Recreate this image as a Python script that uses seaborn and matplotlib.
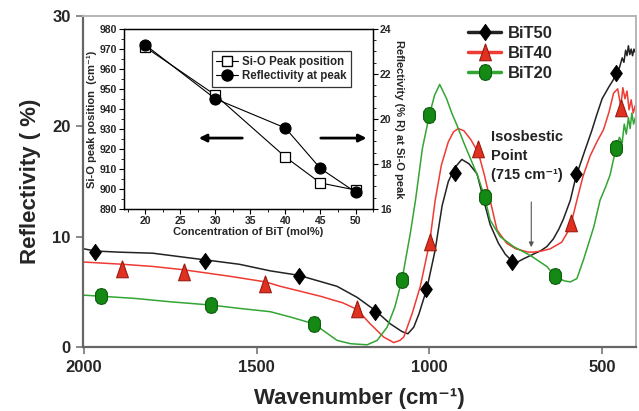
import numpy as np
import pandas as pd
import matplotlib
matplotlib.use("Agg")
import matplotlib.pyplot as plt
from matplotlib.lines import Line2D
import seaborn as sns

# ---------------- data ----------------
# BiT50 spectrum (black)
w50 = [2000, 1967, 1900, 1800, 1700, 1649, 1550, 1460, 1378, 1300, 1267, 1209, 1156, 1113,
       1079, 1062, 1045, 1030, 1007, 983, 963, 945, 925, 906, 885, 862, 840, 824, 800, 780,
       761, 745, 727, 700, 679, 660, 641, 625, 612, 592, 576, 550, 530, 516, 500, 480, 468,
       460, 450, 442, 437, 432, 428, 424, 420, 416, 412, 408, 404]
r50 = [8.9, 8.7, 8.6, 8.5, 8.1, 7.9, 7.5, 6.9, 6.5, 5.8, 5.5, 4.5, 3.3, 2.1,
       1.4, 1.2, 1.8, 3.0, 5.3, 8.8, 12.8, 15.0, 16.3, 17.0, 16.6, 15.7, 13.0, 11.1, 9.4, 8.4,
       7.8, 7.7, 8.0, 8.4, 8.7, 9.1, 9.8, 10.7, 11.6, 13.3, 15.4, 17.8, 19.6, 21.0, 22.5, 23.6, 24.2,
       24.8, 25.3, 26.2, 25.8, 26.9, 26.4, 27.3, 26.5, 27.0, 26.4, 27.0, 26.7]

# BiT40 spectrum (red)
w40 = [2000, 1888, 1800, 1711, 1575, 1474, 1431, 1315, 1250, 1209, 1171, 1132, 1103, 1085,
       1074, 1050, 1026, 999, 983, 965, 945, 930, 916, 900, 880, 858, 840, 824, 804, 776,
       750, 737, 715, 699, 675, 650, 617, 600, 588, 573, 555, 535, 515, 496, 480, 467,
       455, 446, 440, 434, 428, 422, 416, 410, 404]
r40 = [7.7, 7.5, 7.3, 7.0, 6.4, 5.9, 5.5, 4.6, 4.0, 3.4, 2.1, 0.9, 0.4, 0.6,
       0.9, 3.0, 5.5, 9.5, 13.3, 16.5, 18.6, 19.5, 19.8, 19.6, 18.8, 17.6, 15.5, 13.3, 10.6, 9.4,
       8.9, 8.8, 8.6, 8.6, 8.7, 8.9, 9.5, 10.4, 11.4, 13.3, 15.5, 17.3, 18.6, 19.7, 21.3, 23.0,
       23.4, 21.8, 23.5, 22.5, 23.2, 21.5, 22.4, 21.2, 21.9]

# BiT20 spectrum (green)
w20 = [2000, 1949, 1850, 1750, 1631, 1550, 1460, 1400, 1334, 1267, 1228, 1180, 1151, 1122,
       1100, 1079, 1055, 1040, 1020, 1000, 985, 970, 950, 935, 920, 900, 880, 860, 840, 824,
       795, 756, 708, 660, 636, 610, 592, 573, 554, 524, 506, 490, 477, 460, 450, 442, 436,
       430, 424, 419, 414, 409, 404]
r20 = [4.7, 4.6, 4.4, 4.1, 3.8, 3.5, 3.2, 2.7, 2.1, 0.6, 0.3, 0.2, 0.6, 1.8,
       3.6, 6.1, 10.3, 13.3, 18.0, 21.0, 22.8, 23.8, 22.5, 21.2, 20.1, 18.5, 17.0, 15.5, 13.6, 11.5,
       10.0, 9.1, 8.3, 7.3, 6.4, 6.0, 5.9, 6.2, 7.9, 10.9, 13.3, 14.5, 15.6, 18.0, 19.0, 18.5, 20.2,
       19.3, 20.8, 19.8, 21.2, 20.2, 20.8]

# marker positions
m50_w = [1967, 1649, 1378, 1156, 1010, 925, 761, 576, 460]
m50_r = [8.6, 7.8, 6.4, 3.2, 5.3, 15.8, 7.7, 15.7, 24.8]
m40_w = [1888, 1711, 1474, 1209, 999, 858, 590, 446]
m40_r = [7.1, 6.8, 5.7, 3.4, 9.5, 17.9, 11.2, 21.7]
m20_w = [1949, 1631, 1334, 1079, 1000, 840, 636, 460]
m20_r = [4.6, 3.8, 2.1, 6.1, 21.0, 13.6, 6.4, 18.0]

samples = ["BiT50", "BiT40", "BiT20"]

# inset data
conc = [20, 30, 40, 45, 50]
peak_pos = [971, 947, 916, 903, 899.5]
refl_peak = [23.3, 20.9, 19.6, 17.8, 16.75]

# ---------------- style ----------------
sns.set_style("white")
plt.rcParams["font.family"] = ["Liberation Sans", "DejaVu Sans"]
plt.rcParams["font.weight"] = "bold"

line_col = {"BiT50": "#222222", "BiT40": "#ee3b33", "BiT20": "#33a533"}
fill_col = {"BiT50": "#000000", "BiT40": "#e0301f", "BiT20": "#148a14"}
edge_col = {"BiT50": "#000000", "BiT40": "#9a1a10", "BiT20": "#0b5a0b"}
mk = {
    "BiT50": [(0, 1), (0.72, 0), (0, -1), (-0.72, 0), (0, 1)],
    "BiT40": [(0, 1), (-0.68, -0.95), (0.68, -0.95), (0, 1)],
    "BiT20": [(0.0, 1.0), (0.45, 0.88), (0.72, 0.5), (0.75, 0.0), (0.72, -0.5), (0.45, -0.88),
              (0.0, -1.0), (-0.45, -0.88), (-0.72, -0.5), (-0.75, 0.0), (-0.72, 0.5),
              (-0.45, 0.88), (0.0, 1.0)],
}
msz = {"BiT50": 11.5, "BiT40": 12.5, "BiT20": 11.5}

fig = plt.figure(figsize=(6.39, 4.11), dpi=100)
ax = fig.add_axes([0.1299, 0.1557, 0.8654, 0.8054])

spec = pd.concat([
    pd.DataFrame({"w": w50, "R": r50, "s": "BiT50"}),
    pd.DataFrame({"w": w40, "R": r40, "s": "BiT40"}),
    pd.DataFrame({"w": w20, "R": r20, "s": "BiT20"}),
])
marks = {
    "BiT50": (m50_w, m50_r),
    "BiT40": (m40_w, m40_r),
    "BiT20": (m20_w, m20_r),
}

sns.lineplot(data=spec, x="w", y="R", hue="s", palette=line_col, estimator=None,
             sort=False, lw=1.1, legend=False, ax=ax)
for s in samples:
    mw, mr = marks[s]
    sns.scatterplot(x=mw, y=mr, marker=mk[s], s=msz[s] ** 2, color=fill_col[s],
                    edgecolor=edge_col[s], linewidth=0.8, ax=ax, zorder=5, legend=False)

ax.set_xlim(2002, 402)
ax.set_ylim(0, 30)
ax.set_xticks([2000, 1500, 1000, 500])
ax.set_yticks([0, 10, 20, 30])
ax.tick_params(axis="both", which="major", direction="out", length=5, width=1.2,
               color="#777777", labelsize=12, pad=4, bottom=True, left=True)
for lab in ax.get_xticklabels() + ax.get_yticklabels():
    lab.set_fontweight("bold")
ax.set_xlabel("Wavenumber (cm⁻¹)", fontsize=16, fontweight="bold", labelpad=10)
ax.set_ylabel("Reflectivity ( %)", fontsize=16, fontweight="bold", labelpad=8)
for sp in ["left", "bottom"]:
    ax.spines[sp].set_color("#666666")
    ax.spines[sp].set_linewidth(1.6)
for sp in ["top", "right"]:
    ax.spines[sp].set_color("#b5b5b5")
    ax.spines[sp].set_linewidth(1.4)

handles = [Line2D([], [], color=line_col[s], lw=2.5, marker=mk[s], ms=msz[s],
                  mfc=fill_col[s], mec=edge_col[s], mew=0.8) for s in samples]
ax.legend(handles, samples, loc="upper left", bbox_to_anchor=(0.675, 1.005),
          frameon=False, prop={"size": 12, "weight": "bold"}, handlelength=2.0,
          handletextpad=0.4, labelspacing=0.3, borderpad=0.2)

ax.text(821, 19.7, "Isosbestic\nPoint\n(715 cm⁻¹)", fontsize=10.5, fontweight="bold",
        ha="left", va="top", linespacing=1.45, color="#222222")
ax.annotate("", xy=(705, 8.8), xytext=(705, 13.4),
            arrowprops=dict(arrowstyle="-|>", color="#555555", lw=0.8, mutation_scale=7))

# ---------------- inset ----------------
ax_in = fig.add_axes([0.1941, 0.4915, 0.3897, 0.438])
ax_in.set_facecolor("white")
sns.lineplot(x=conc, y=peak_pos, ax=ax_in, color="black", lw=0.8, marker="s", ms=7,
             mfc="white", mec="black", mew=0.9, estimator=None, sort=False)
ax_in.set_xlim(17, 52.5)
ax_in.set_ylim(890, 980)
ax_in.set_xticks([20, 25, 30, 35, 40, 45, 50])
ax_in.set_xticks([17.5, 22.5, 27.5, 32.5, 37.5, 42.5, 47.5, 52.5], minor=True)
ax_in.set_yticks(list(range(890, 981, 10)))
ax_in.set_yticks(list(range(895, 980, 10)), minor=True)
ax_in.tick_params(axis="both", which="major", direction="out", length=3.5, width=0.8,
                  labelsize=7.5, pad=1.5, bottom=True, left=True, color="black")
ax_in.tick_params(axis="both", which="minor", direction="out", length=2, width=0.6,
                  bottom=True, left=True, color="black")
for lab in ax_in.get_xticklabels() + ax_in.get_yticklabels():
    lab.set_fontweight("bold")
ax_in.set_xlabel("Concentration of BiT (mol%)", fontsize=8, fontweight="bold", labelpad=1)
ax_in.set_ylabel("Si-O peak position  (cm⁻¹)", fontsize=8, fontweight="bold", labelpad=2)
for sp in ax_in.spines.values():
    sp.set_color("black")
    sp.set_linewidth(0.9)

ax_r = ax_in.twinx()
sns.lineplot(x=conc, y=refl_peak, ax=ax_r, color="black", lw=0.8, marker="o", ms=8,
             mfc="black", mec="black", estimator=None, sort=False)
ax_r.set_ylim(16, 24)
ax_r.set_yticks([16, 18, 20, 22, 24])
ax_r.set_yticks(list(np.arange(16.5, 24, 0.5)), minor=True)
ax_r.tick_params(axis="y", which="major", direction="out", length=3.5, width=0.8,
                 labelsize=7.5, pad=1.5, right=True, color="black")
ax_r.tick_params(axis="y", which="minor", direction="out", length=2, width=0.6,
                 right=True, color="black")
for lab in ax_r.get_yticklabels():
    lab.set_fontweight("bold")
ax_r.set_ylabel("Reflectivity (% R) at Si-O peak", fontsize=8, fontweight="bold",
                rotation=270, labelpad=9)
for sp in ax_r.spines.values():
    sp.set_color("black")
    sp.set_linewidth(0.9)

in_handles = [
    Line2D([], [], color="black", lw=0.8, marker="s", ms=7, mfc="white", mec="black"),
    Line2D([], [], color="black", lw=0.8, marker="o", ms=8, mfc="black", mec="black"),
]
leg = ax_r.legend(in_handles, ["Si-O Peak position", "Reflectivity at peak"],
                  loc="upper right", bbox_to_anchor=(0.91, 0.875), frameon=True,
                  fancybox=False, prop={"size": 8.3, "weight": "bold"}, handlelength=1.9,
                  handletextpad=0.3, labelspacing=0.2, borderpad=0.4, borderaxespad=0)
leg.get_frame().set_edgecolor("black")
leg.get_frame().set_linewidth(0.9)

ax_in.annotate("", xy=(0.289, 0.394), xytext=(0.486, 0.394), xycoords="axes fraction",
               textcoords="axes fraction",
               arrowprops=dict(arrowstyle="-|>", color="black", lw=2, mutation_scale=11))
ax_in.annotate("", xy=(0.985, 0.394), xytext=(0.779, 0.394), xycoords="axes fraction",
               textcoords="axes fraction",
               arrowprops=dict(arrowstyle="-|>", color="black", lw=2, mutation_scale=11))

fig.savefig("out.png", dpi=100)
